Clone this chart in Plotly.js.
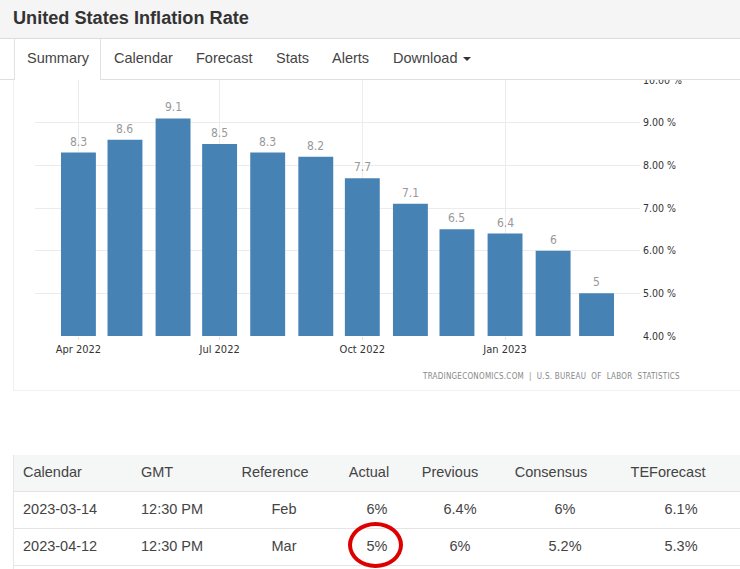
<!DOCTYPE html>
<html><head><meta charset="utf-8">
<script src="https://cdn.plot.ly/plotly-3.0.1.min.js"></script>
<style>
html,body{margin:0;padding:0;background:#fff;overflow:hidden}
#page{position:relative;width:740px;height:569px;overflow:hidden;font-family:"Liberation Sans",Arial,sans-serif;color:#333}
#chart{position:absolute;left:0;top:0;width:740px;height:569px;z-index:1}
#frame{position:absolute;left:13px;top:79px;width:726px;height:311px;border:1px solid #f1f1f1;border-top:0;z-index:0}
#head{position:absolute;left:0;top:0;width:740px;height:80px;background:#fff;z-index:2}
#title{position:absolute;left:0;top:0;width:740px;height:38px;background:#f5f5f5;border-bottom:1px solid #dcdcdc;box-sizing:content-box}
#title span{position:absolute;left:13px;top:7px;font-size:18.15px;font-weight:bold;color:#333;line-height:22px}
#rule{position:absolute;left:0;top:79px;width:740px;height:1px;background:#dedede}
#active{position:absolute;left:14px;top:39px;width:85px;height:41px;background:#fff;border-left:1px solid #e2e2e2;border-right:1px solid #e2e2e2}
.tab{position:absolute;top:50px;font-size:14.5px;line-height:17px;color:#444;white-space:nowrap}
.caret{position:absolute;left:463px;top:57px;width:0;height:0;border-left:4px solid transparent;border-right:4px solid transparent;border-top:4px solid #333}
#src{position:absolute;left:423px;top:372px;font-family:"DejaVu Sans Condensed","DejaVu Sans",sans-serif;font-stretch:condensed;font-size:8px;line-height:10px;color:#888;white-space:pre;z-index:2;letter-spacing:.25px}
#tbl{position:absolute;left:13px;top:455px;width:727px;height:114px;z-index:2;background:#fff;border-left:1px solid #e6e6e6;box-sizing:border-box}
.band{position:absolute;left:0;width:727px}
.cell{position:absolute;font-size:14.5px;line-height:17px;color:#444;white-space:nowrap}
#ring{position:absolute;left:348px;top:522px;width:55px;height:46px;box-sizing:border-box;border:4.5px solid #de0000;border-radius:50%;z-index:3}
</style></head>
<body><div id="page">
<div id="frame"></div>
<div id="chart"></div>
<div id="head">
  <div id="title"><span id="titleText"></span></div>
  <div id="rule"></div><div id="active"></div>
  <div class="caret"></div>
</div>
<div id="src"></div>
<div id="tbl"></div>
<div id="ring"></div>
</div>
<script>
const pageTitle = "United States Inflation Rate";
const tabNames = ["Summary","Calendar","Forecast","Stats","Alerts","Download"];
const tabLeft = [27,114,196,276,332,393];
const months = ["2022-04-01","2022-05-01","2022-06-01","2022-07-01","2022-08-01","2022-09-01","2022-10-01","2022-11-01","2022-12-01","2023-01-01","2023-02-01","2023-03-01"];
const inflation = [8.3,8.6,9.1,8.5,8.3,8.2,7.7,7.1,6.5,6.4,6,5];
const xTickVals = ["2022-04-01","2022-07-01","2022-10-01","2023-01-01"];
const xTickText = ["Apr 2022","Jul 2022","Oct 2022","Jan 2023"];
const yTickVals = [4,5,6,7,8,9,10];
const yTickText = ["4.00 %","5.00 %","6.00 %","7.00 %","8.00 %","9.00 %","10.00 %"];
const sourceText = "TRADINGECONOMICS.COM  |  U.S. BUREAU  OF  LABOR  STATISTICS";
const tableHeader = ["Calendar","GMT","Reference","Actual","Previous","Consensus","TEForecast"];
const rowOne = ["2023-03-14","12:30 PM","Feb","6%","6.4%","6%","6.1%"];
const rowTwo = ["2023-04-12","12:30 PM","Mar","5%","6%","5.2%","5.3%"];
const headerCentre = [0,0,261,355,436,537,654];
const rowCentre = [0,0,270,363,446,551,667];

document.getElementById("titleText").textContent = pageTitle;
const head = document.getElementById("head");
tabNames.forEach((t,i)=>{const d=document.createElement("div");d.className="tab";d.style.left=tabLeft[i]+"px";d.textContent=t;head.appendChild(d);});
document.getElementById("src").textContent = sourceText;

const tbl = document.getElementById("tbl");
function band(top,h,bg,line){const b=document.createElement("div");b.className="band";b.style.top=top+"px";b.style.height=h+"px";b.style.background=bg;if(line)b.style.borderBottom="1px solid "+line;tbl.appendChild(b);}
band(0,36,"#f5f6f6","#e4e4e4");
band(37,36,"#fff","#e4e4e4");
band(74,36,"#fff","#e4e4e4");
function cell(text,i,top,centres){const d=document.createElement("div");d.className="cell";d.style.top=top+"px";d.textContent=text;
  if(i<2){d.style.left=(i==0?9:127)+"px";}else{d.style.left=centres[i]+"px";d.style.transform="translateX(-50%)";}
  tbl.appendChild(d);}
tableHeader.forEach((t,i)=>cell(t,i,9,headerCentre));
rowOne.forEach((t,i)=>cell(t,i,46,rowCentre));
rowTwo.forEach((t,i)=>cell(t,i,83,rowCentre));

const condensed = '"DejaVu Sans Condensed","DejaVu Sans",sans-serif';
const valueLabels = months.map((m,i)=>({
  x:m,y:inflation[i],xref:"x",yref:"y",text:String(inflation[i]),showarrow:false,
  xanchor:"center",yanchor:"bottom",yshift:2,
  font:{family:condensed,size:12,color:"#999"}
}));
Plotly.newPlot("chart",[{
  type:"bar",x:months,y:inflation,
  width:22.5*86400000,
  marker:{color:"#4682b4",line:{width:0}},
  hoverinfo:"skip"
}],{
  width:740,height:569,showlegend:false,
  paper_bgcolor:"rgba(0,0,0,0)",plot_bgcolor:"rgba(0,0,0,0)",
  margin:{l:35,r:100,t:80,b:232.5,pad:0},
  annotations:valueLabels,
  xaxis:{type:"date",range:["2022-03-04","2023-03-29"],tickmode:"array",tickvals:xTickVals,ticktext:xTickText,
    tickfont:{family:condensed,size:11,color:"#333"},tickangle:0,showgrid:true,gridcolor:"#ececec",gridwidth:1,showline:false,zeroline:false,
    ticks:"outside",ticklen:3,tickcolor:"#e0e0e0"},
  yaxis:{side:"right",range:[4,10],tickmode:"array",tickvals:yTickVals,ticktext:yTickText,tickfont:{family:condensed,size:10.5,color:"#333"},
    showgrid:true,gridcolor:"#ececec",gridwidth:1,showline:false,zeroline:false,ticks:"",ticklabelstandoff:2}
},{displayModeBar:false,staticPlot:true});
</script>
</body></html>
